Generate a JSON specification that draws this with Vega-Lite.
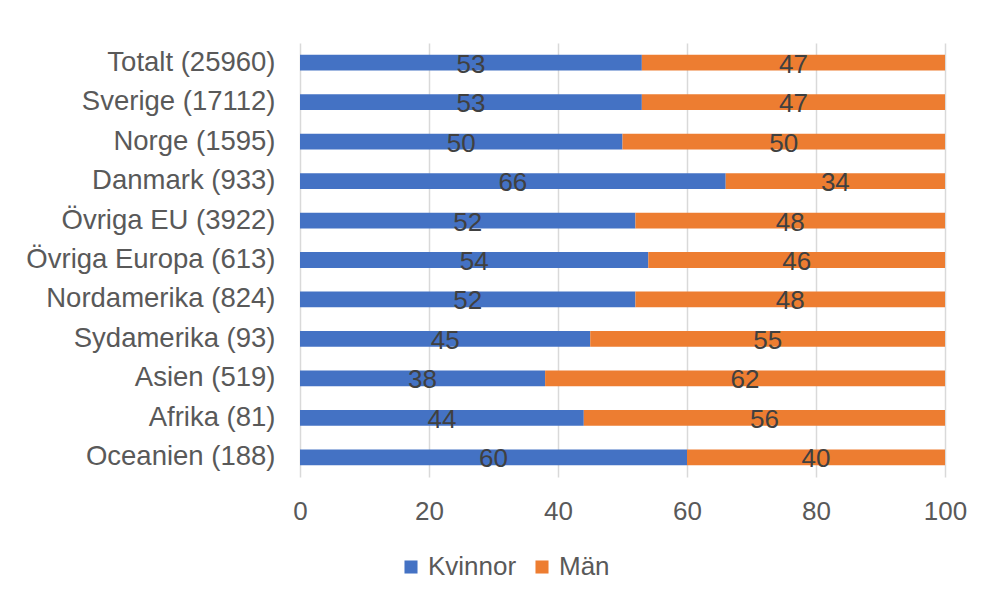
{
  "$schema": "https://vega.github.io/schema/vega-lite/v6.json",
  "autosize": "none",
  "width": 645,
  "height": 434,
  "padding": {"left": 300, "top": 43, "right": 46, "bottom": 123},
  "background": "white",
  "config": {
    "font": "Liberation Sans",
    "view": {"stroke": null}
  },
  "data": {
    "values": [
      {"region": "Totalt (25960)", "kon": "Kvinnor", "andel": 53},
      {"region": "Totalt (25960)", "kon": "Män", "andel": 47},
      {"region": "Sverige (17112)", "kon": "Kvinnor", "andel": 53},
      {"region": "Sverige (17112)", "kon": "Män", "andel": 47},
      {"region": "Norge (1595)", "kon": "Kvinnor", "andel": 50},
      {"region": "Norge (1595)", "kon": "Män", "andel": 50},
      {"region": "Danmark (933)", "kon": "Kvinnor", "andel": 66},
      {"region": "Danmark (933)", "kon": "Män", "andel": 34},
      {"region": "Övriga EU (3922)", "kon": "Kvinnor", "andel": 52},
      {"region": "Övriga EU (3922)", "kon": "Män", "andel": 48},
      {"region": "Övriga Europa (613)", "kon": "Kvinnor", "andel": 54},
      {"region": "Övriga Europa (613)", "kon": "Män", "andel": 46},
      {"region": "Nordamerika (824)", "kon": "Kvinnor", "andel": 52},
      {"region": "Nordamerika (824)", "kon": "Män", "andel": 48},
      {"region": "Sydamerika (93)", "kon": "Kvinnor", "andel": 45},
      {"region": "Sydamerika (93)", "kon": "Män", "andel": 55},
      {"region": "Asien (519)", "kon": "Kvinnor", "andel": 38},
      {"region": "Asien (519)", "kon": "Män", "andel": 62},
      {"region": "Afrika (81)", "kon": "Kvinnor", "andel": 44},
      {"region": "Afrika (81)", "kon": "Män", "andel": 56},
      {"region": "Oceanien (188)", "kon": "Kvinnor", "andel": 60},
      {"region": "Oceanien (188)", "kon": "Män", "andel": 40}
    ]
  },
  "transform": [
    {"stack": "andel", "groupby": ["region"], "sort": [{"field": "kon", "order": "ascending"}], "as": ["x0", "x1"]}
  ],
  "encoding": {
    "y": {
      "field": "region",
      "type": "nominal",
      "sort": null,
      "scale": {"paddingInner": 0.6, "paddingOuter": 0.3},
      "axis": {
        "title": null,
        "domain": false,
        "ticks": false,
        "labelFontSize": 27.5,
        "labelColor": "#595959",
        "labelPadding": 25,
        "labelLimit": 400
      }
    }
  },
  "layer": [
    {
      "mark": {"type": "bar"},
      "encoding": {
        "x": {
          "field": "x0",
          "type": "quantitative",
          "scale": {"domain": [0, 100], "nice": false},
          "axis": {
            "title": null,
            "values": [0, 20, 40, 60, 80, 100],
            "domain": false,
            "ticks": false,
            "grid": true,
            "gridColor": "#d9d9d9",
            "gridWidth": 1.5,
            "labelFontSize": 26,
            "labelColor": "#595959",
            "labelPadding": 21,
            "labelFlush": false
          }
        },
        "x2": {"field": "x1"},
        "color": {
          "field": "kon",
          "type": "nominal",
          "scale": {"domain": ["Kvinnor", "Män"], "range": ["#4472C4", "#ED7D31"]},
          "legend": {
            "title": null,
            "orient": "none",
            "direction": "horizontal",
            "legendX": 98,
            "legendY": 511,
            "symbolType": "square",
            "symbolSize": 170,
            "symbolOpacity": 1,
            "symbolStrokeWidth": 0,
            "labelFontSize": 26,
            "labelColor": "#595959",
            "columnPadding": 12,
            "labelOffset": 4
          }
        }
      }
    },
    {
      "transform": [
        {"fold": ["x0", "x1"], "as": ["edge", "pos"]},
        {"aggregate": [{"op": "mean", "field": "pos", "as": "mid"}], "groupby": ["region", "kon", "andel"]}
      ],
      "mark": {"type": "text", "fontSize": 26, "color": "#404040", "baseline": "middle", "dy": 2},
      "encoding": {
        "x": {"field": "mid", "type": "quantitative"},
        "text": {"field": "andel", "type": "quantitative"}
      }
    }
  ]
}
